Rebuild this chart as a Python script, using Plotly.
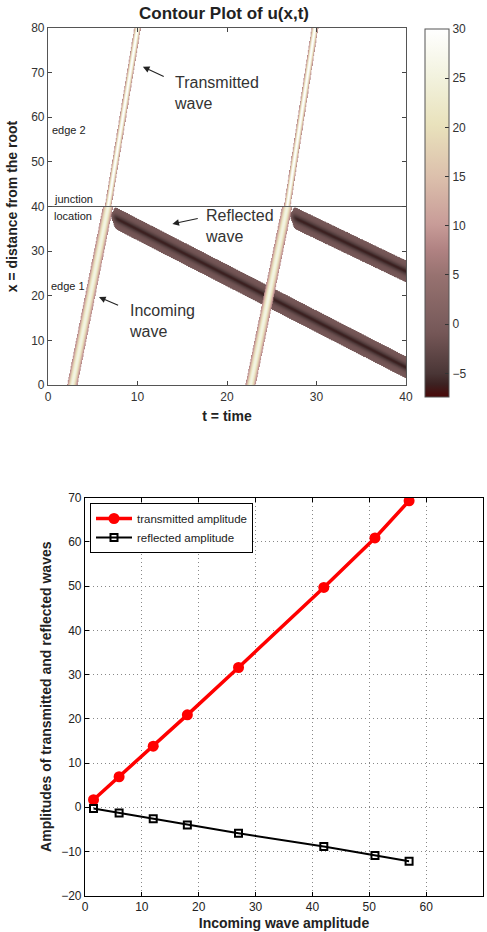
import numpy as np
import plotly.graph_objects as go

# ---------------- Data: bottom panel ----------------
incoming_amp = [1.5, 6, 12, 18, 27, 42, 51, 57]
transmitted_amp = [1.7, 6.9, 13.8, 20.9, 31.6, 49.7, 60.9, 69.3]
reflected_amp = [-0.3, -1.3, -2.6, -4.0, -5.9, -8.9, -10.9, -12.2]

# ---------------- Data: top panel (wave trajectories) ----------------
# incoming pulses: time at x=0, time at junction (x=40), time at x=80
pulse_t_start = [2.7, 22.6]
pulse_t_junction = [6.7, 26.7]
pulse_t_end = [10.0, 29.8]
pulse_amp_in = [26.0, 26.0]
pulse_amp_out = [30.0, 30.0]
# reflected pulses: start time at junction, x reached at t=40
refl_t_start = [7.0, 27.0]
refl_x_at_end = [4.0, 25.5]
refl_plateau = [-1.0, -1.0]
refl_core = [-5.2, -5.2]
junction_x = 40
colorbar_ticks = [-5, 0, 5, 10, 15, 20, 25, 30]

# grid
t_grid = np.linspace(0, 40, 501)
x_grid = np.linspace(0, 80, 641)
T, X = np.meshgrid(t_grid, x_grid)
U_pos = np.zeros_like(T)
U_neg = np.zeros_like(T)

for ts, tj, te, ai, ao in zip(pulse_t_start, pulse_t_junction, pulse_t_end, pulse_amp_in, pulse_amp_out):
    tc_in = ts + (tj - ts) * X / junction_x
    tc_out = tj + (te - tj) * (X - junction_x) / (80 - junction_x)
    below = X <= junction_x
    tc = np.where(below, tc_in, tc_out)
    amp = np.where(below, ai, ao)
    w = np.where(below, 0.50, 0.31)
    U_pos += amp * np.exp(-((T - tc) / w) ** 2)

for tr, xe, ap, ac in zip(refl_t_start, refl_x_at_end, refl_plateau, refl_core):
    x0 = junction_x - 2.0
    xc = x0 - (T - tr) * (x0 - xe) / (40 - tr)
    taper = 1 / (1 + np.exp(-(T - tr - 0.35) / 0.12))
    d = X - xc
    band = (ap * np.exp(-(d / 2.6) ** 6) + ac * np.exp(-(d / 0.85) ** 2)) * taper
    band = np.where(X <= junction_x, band, 0)
    U_neg += band

Z = np.where(U_pos >= 7.0, U_pos, np.where(U_neg < -0.5, U_neg, np.nan))
Z = np.round(Z, 1)

cscale = [
    [0.00, "#4a0808"],
    [0.035, "#3c2222"],
    [0.064, "#4a3636"],
    [0.171, "#745656"],
    [0.198, "#7a5c5c"],
    [0.33, "#977270"],
    [0.40, "#b08282"],
    [0.47, "#c89c98"],
    [0.60, "#dcc0ac"],
    [0.74, "#e9e2bc"],
    [0.87, "#f2f2de"],
    [1.00, "#ffffff"],
]
zmin, zmax = -7.4, 30

fig = go.Figure()

fig.add_trace(go.Heatmap(
    x=t_grid, y=x_grid, z=Z, colorscale=cscale, zmin=zmin, zmax=zmax,
    xaxis="x", yaxis="y", zsmooth="fast", hoverongaps=False,
    colorbar=dict(
        x=425 / 487, xanchor="left", y=1 - 29 / 932, yanchor="top",
        len=(397 - 29) / 932, lenmode="fraction", thickness=24, thicknessmode="pixels",
        outlinecolor="#555", outlinewidth=1, ticks="inside", ticklen=4, tickcolor="#333",
        tickvals=colorbar_ticks, tickfont=dict(family="Liberation Sans", size=12, color="#333"),
        xpad=0, ypad=0,
    ),
))

fig.add_trace(go.Scatter(
    x=[0, 40], y=[junction_x, junction_x], mode="lines",
    line=dict(color="#555", width=1.2), xaxis="x", yaxis="y", showlegend=False,
))

fig.add_trace(go.Scatter(
    x=incoming_amp, y=transmitted_amp, mode="lines+markers", name="transmitted amplitude",
    line=dict(color="#ff0000", width=3.5), marker=dict(symbol="circle", size=11, color="#ff0000"),
    xaxis="x2", yaxis="y2",
))
fig.add_trace(go.Scatter(
    x=incoming_amp, y=reflected_amp, mode="lines+markers", name="reflected amplitude",
    line=dict(color="#000000", width=2), marker=dict(symbol="square-open", size=7, color="#000000",
                                                      line=dict(width=2)),
    xaxis="x2", yaxis="y2",
))

tickfont_top = dict(family="Liberation Sans", size=12, color="#333")
tickfont_bot = dict(family="Liberation Sans", size=12, color="#222")

fig.update_layout(
    width=487, height=932, margin=dict(l=0, r=0, t=0, b=0, autoexpand=False),
    paper_bgcolor="white", plot_bgcolor="white",
    xaxis=dict(domain=[48 / 487, 406 / 487], anchor="y", range=[0, 40], tickvals=[0, 10, 20, 30, 40],
               automargin=False,
               showgrid=False, zeroline=False, showline=True, linecolor="#555", linewidth=1.2, mirror="ticks",
               ticks="inside", ticklen=4, tickcolor="#444", tickfont=tickfont_top,
               title=dict(text="<b>t = time</b>", font=dict(family="Liberation Sans", size=14, color="#222"),
                          standoff=8)),
    yaxis=dict(domain=[1 - 385 / 932, 1 - 28 / 932], anchor="x", range=[0, 80],
               tickvals=[0, 10, 20, 30, 40, 50, 60, 70, 80], automargin=False,
               showgrid=False, zeroline=False, showline=True, linecolor="#555", linewidth=1.2, mirror="ticks",
               ticks="inside", ticklen=4, tickcolor="#444", tickfont=tickfont_top,
               title=dict(text="<b>x = distance from the root</b>",
                          font=dict(family="Liberation Sans", size=14, color="#222"), standoff=10)),
    xaxis2=dict(domain=[85 / 487, 483 / 487], anchor="y2", range=[0, 70], dtick=10, automargin=False,
                showgrid=True, gridcolor="#888", griddash="1px,3px", gridwidth=1, zeroline=False,
                showline=True, linecolor="black", linewidth=1.2, mirror="ticks", ticks="inside", ticklen=4,
                tickcolor="black", tickfont=tickfont_bot,
                title=dict(text="<b>Incoming wave amplitude</b>",
                           font=dict(family="Liberation Sans", size=14, color="#222"), standoff=4)),
    yaxis2=dict(domain=[1 - 895.7 / 932, 1 - 497.7 / 932], anchor="x2", range=[-20, 70], dtick=10,
                automargin=False,
                showgrid=True, gridcolor="#888", griddash="1px,3px", gridwidth=1, zeroline=False,
                showline=True, linecolor="black", linewidth=1.2, mirror="ticks", ticks="inside", ticklen=4,
                tickcolor="black", tickfont=tickfont_bot, tickformat="d",
                title=dict(text="<b>Amplitudes of transmitted and reflected waves</b>",
                           font=dict(family="Liberation Sans", size=14, color="#222"), standoff=6)),
    legend=dict(x=90 / 487, y=1 - 503 / 932, xanchor="left", yanchor="top", bgcolor="white",
                bordercolor="black", borderwidth=1, font=dict(family="Liberation Sans", size=11.5, color="#222"),
                tracegroupgap=0, itemwidth=36),
    showlegend=True,
)

ann_font = dict(family="Liberation Sans", size=16, color="#333")
small_font = dict(family="Liberation Sans", size=11, color="#222")
annotations = [
    dict(text="<b>Contour Plot of u(x,t)</b>", xref="paper", yref="paper", x=224 / 487, y=1 - 13 / 932,
         showarrow=False, font=dict(family="Liberation Sans", size=17, color="#222"), xanchor="center",
         yanchor="middle"),
    dict(text="Transmitted<br>wave", x=13.9, y=65.4, xref="x", yref="y", showarrow=False, xanchor="left",
         yanchor="middle", align="left", font=ann_font),
    dict(text="Reflected<br>wave", x=17.3, y=35.6, xref="x", yref="y", showarrow=False, xanchor="left",
         yanchor="middle", align="left", font=ann_font),
    dict(text="Incoming<br>wave", x=8.8, y=14.3, xref="x", yref="y", showarrow=False, xanchor="left",
         yanchor="middle", align="left", font=ann_font),
    dict(text="edge 2", x=0.2, y=57.1, xref="x", yref="y", showarrow=False, xanchor="left", font=small_font),
    dict(text="junction", x=0.4, y=41.6, xref="x", yref="y", showarrow=False, xanchor="left", font=small_font),
    dict(text="location", x=0.4, y=37.9, xref="x", yref="y", showarrow=False, xanchor="left", font=small_font),
    dict(text="edge 1", x=0.1, y=22.2, xref="x", yref="y", showarrow=False, xanchor="left", font=small_font),
]
arrows = [((10.6, 71.3), (13.1, 69.0)), ((13.9, 36.1), (16.9, 37.4)), ((5.7, 19.7), (8.0, 17.7))]
for (hx, hy), (tx, ty) in arrows:
    annotations.append(dict(x=hx, y=hy, ax=tx, ay=ty, xref="x", yref="y", axref="x", ayref="y",
                            showarrow=True, arrowhead=2, arrowsize=1.2, arrowwidth=1.1, arrowcolor="#222",
                            text=""))
fig.update_layout(annotations=annotations)

fig.write_html("out.html", config={"displayModeBar": False},
               post_script="document.body.style.margin='0';document.body.style.padding='0';")
